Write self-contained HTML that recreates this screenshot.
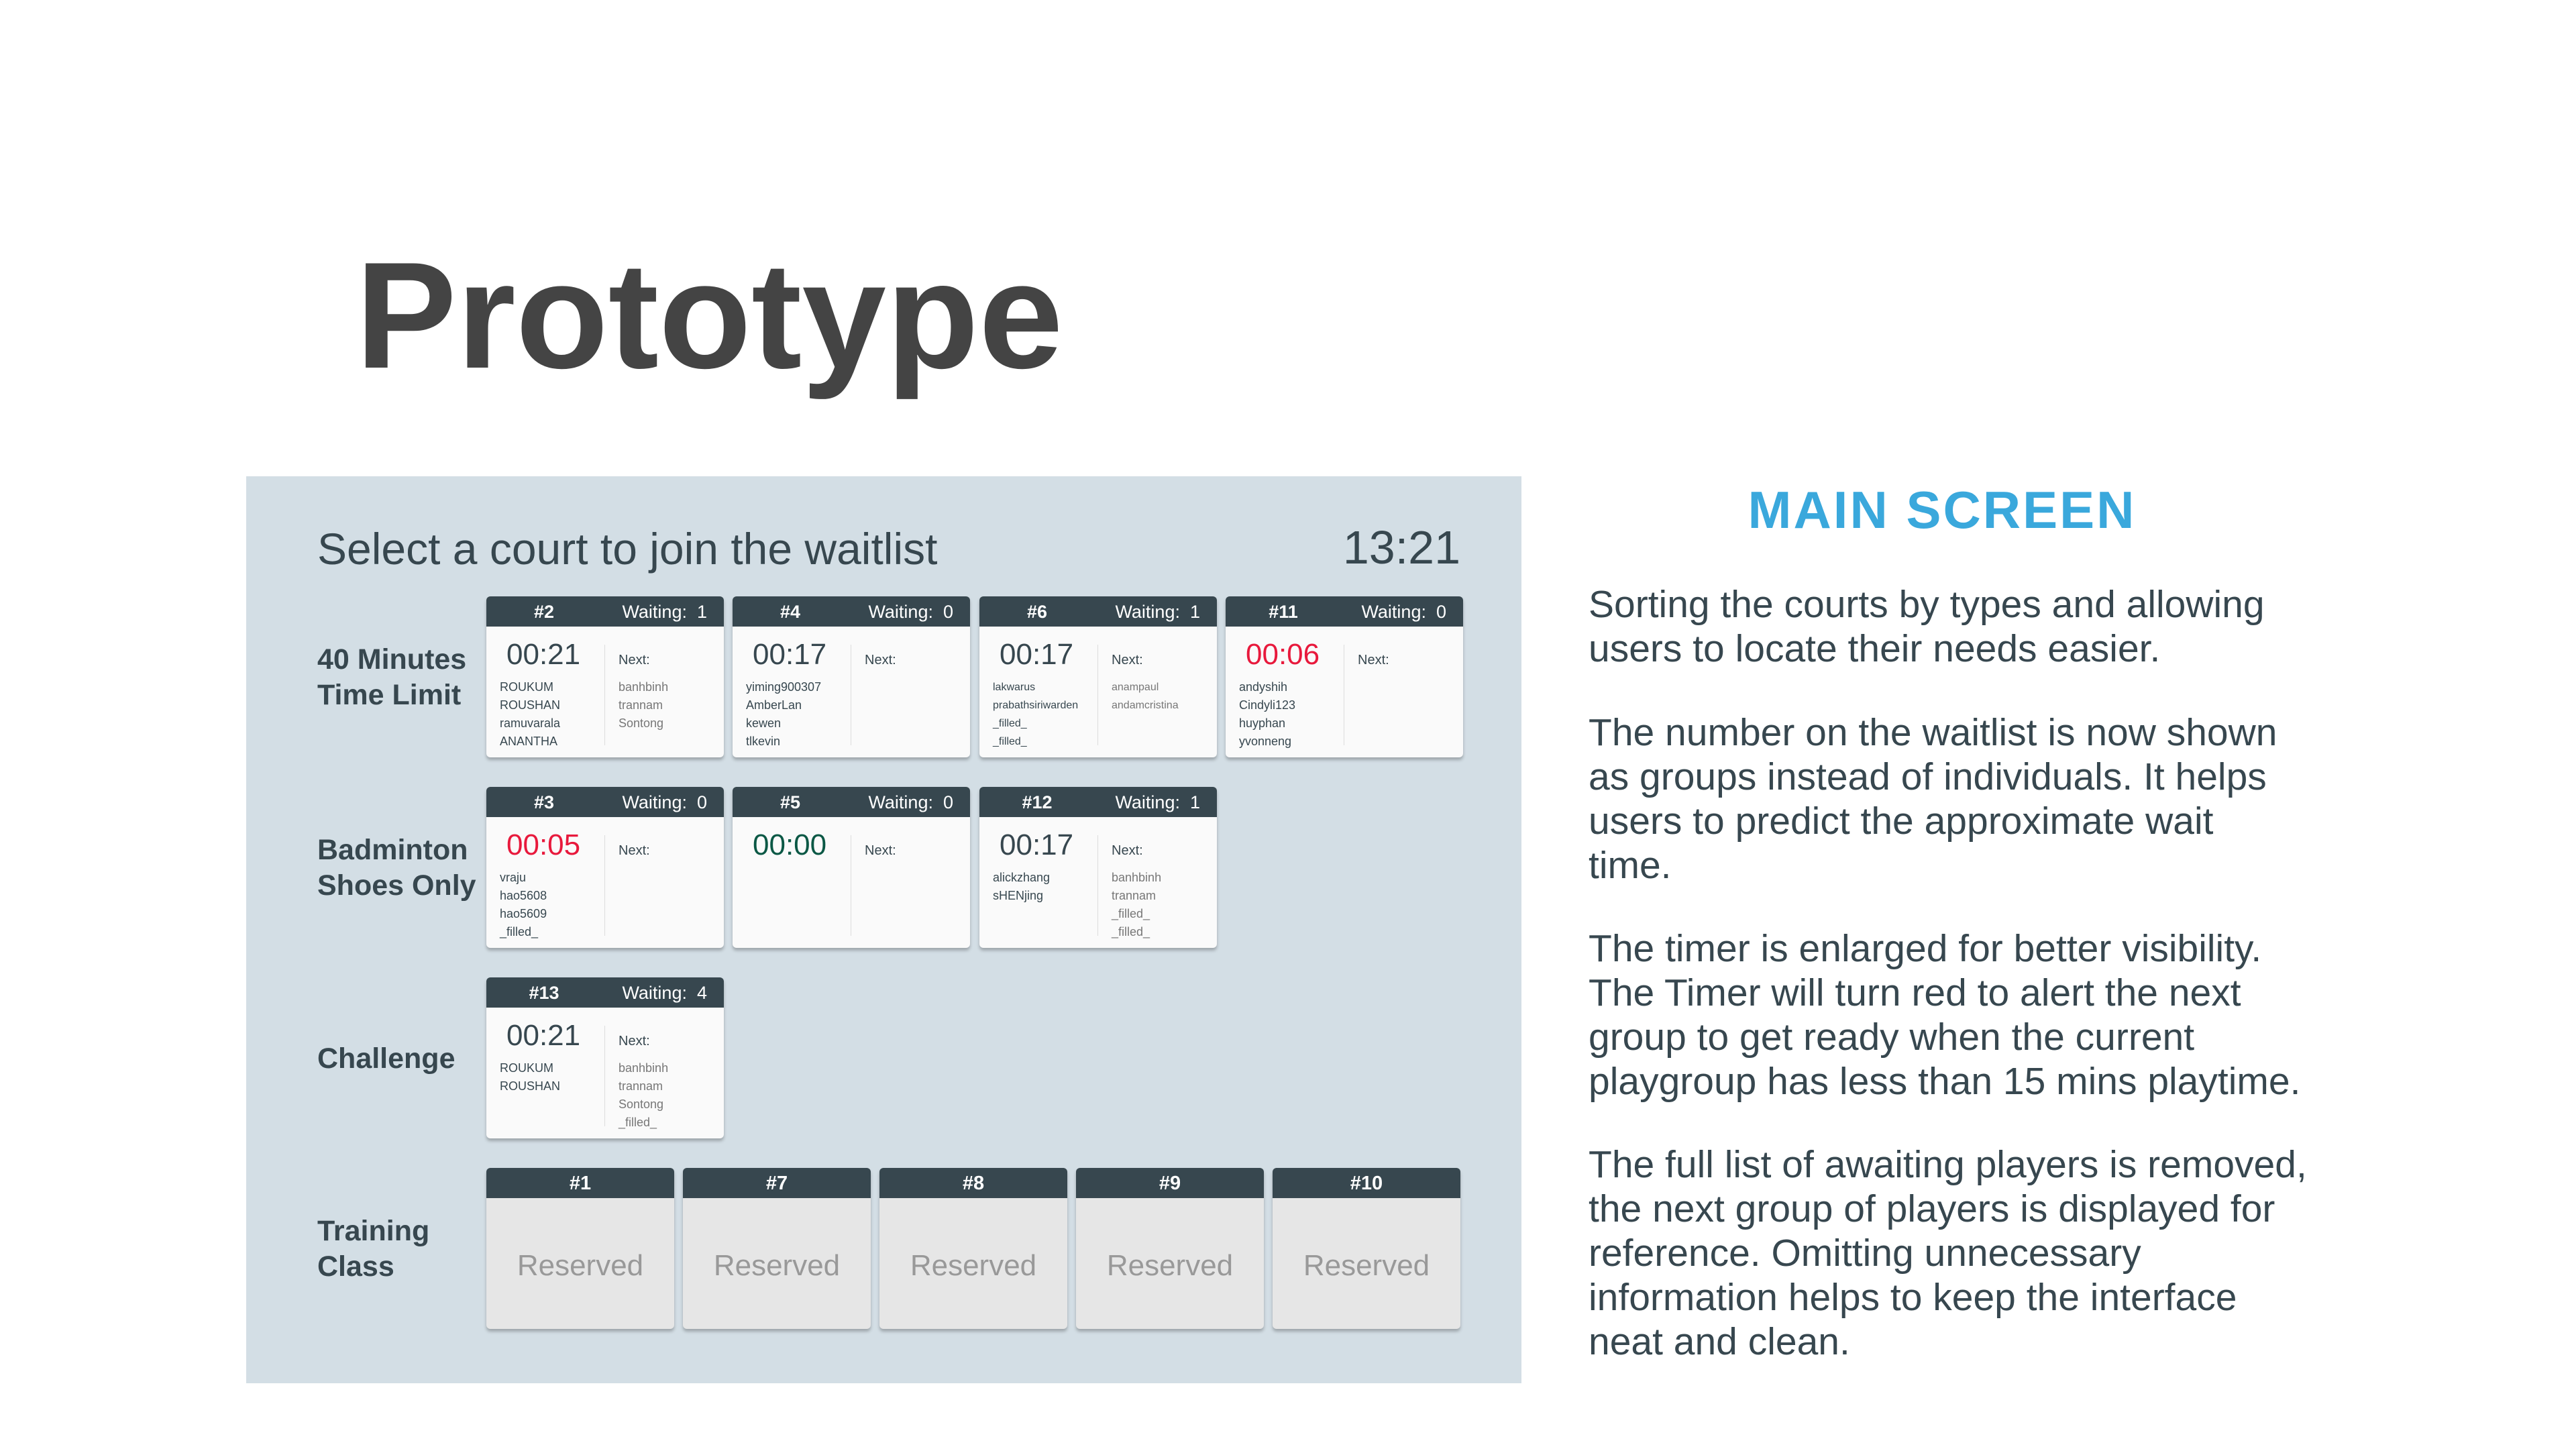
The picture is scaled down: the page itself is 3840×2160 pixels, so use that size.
<!DOCTYPE html>
<html><head><meta charset="utf-8"><style>
*{margin:0;padding:0;box-sizing:border-box}
body{width:3840px;height:2160px;background:#fff;position:relative;overflow:hidden;font-family:"Liberation Sans",sans-serif}
.abs{position:absolute}
#title{left:530px;top:340px;font-size:226px;font-weight:bold;color:#444;letter-spacing:0}
#panel{left:367px;top:710px;width:1901px;height:1352px;background:#d3dee5}
#hdr{left:473px;top:780px;font-size:66px;color:#37474f;white-space:nowrap}
#clock{left:1990px;top:776px;width:187px;text-align:right;font-size:70px;color:#37474f}
.lab{position:absolute;left:473px;font-size:43px;font-weight:bold;color:#37474f;line-height:53px}
.card{position:absolute;width:354px;height:240px;background:#fafafa;border-radius:6px;box-shadow:0 4px 5px rgba(0,0,0,.25);overflow:hidden}
.card .h{height:45px;background:#37474f;color:#fff;font-size:27px;position:relative}
.card .n{position:absolute;left:0;width:172px;text-align:center;top:8px;font-weight:bold}
.card .w{position:absolute;right:25px;top:8px}
.card .t{position:absolute;left:30px;top:62px;font-size:44px;color:#37474f}
.card .t.r{color:#e8193c}.card .t.g{color:#0b5845}
.card .d{position:absolute;left:176px;top:72px;width:1px;height:150px;background:#ddd}
.card .nx{position:absolute;left:197px;top:84px;font-size:20px;color:#37474f}
.card .p1{position:absolute;left:20px;top:122px;font-size:18px;line-height:27px;color:#37474f}
.card .p2{position:absolute;left:197px;top:122px;font-size:18px;line-height:27px;color:#777}
.tr{position:absolute;width:280px;height:240px;background:#e6e6e6;border-radius:6px;box-shadow:0 4px 5px rgba(0,0,0,.25);overflow:hidden;top:1741px}
.tr .h{height:45px;background:#37474f;color:#fff;font-size:29px;font-weight:bold;text-align:center;padding-top:7px}
.tr .b{text-align:center;color:#999;font-size:44px;margin-top:76px}
#ms{left:2500px;top:715px;width:790px;text-align:center;font-size:78px;font-weight:bold;color:#3aa8dc;letter-spacing:3px}
.para{position:absolute;left:2368px;font-size:57px;line-height:66px;color:#37474f;white-space:nowrap}
</style></head><body>
<div id="title" class="abs">Prototype</div>
<div id="panel" class="abs"></div>
<div id="hdr" class="abs">Select a court to join the waitlist</div>
<div id="clock" class="abs">13:21</div>

<div class="lab" style="top:957px">40 Minutes<br>Time Limit</div>
<div class="lab" style="top:1241px">Badminton<br>Shoes Only</div>
<div class="lab" style="top:1552px">Challenge</div>
<div class="lab" style="top:1809px">Training<br>Class</div>

<div class="card" style="left:725px;top:889px"><div class="h"><span class="n">#2</span><span class="w">Waiting:&nbsp; 1</span></div><div class="t">00:21</div><div class="d"></div><div class="nx">Next:</div><div class="p1">ROUKUM<br>ROUSHAN<br>ramuvarala<br>ANANTHA</div><div class="p2">banhbinh<br>trannam<br>Sontong</div></div>
<div class="card" style="left:1092px;top:889px"><div class="h"><span class="n">#4</span><span class="w">Waiting:&nbsp; 0</span></div><div class="t">00:17</div><div class="d"></div><div class="nx">Next:</div><div class="p1">yiming900307<br>AmberLan<br>kewen<br>tlkevin</div></div>
<div class="card" style="left:1460px;top:889px"><div class="h"><span class="n">#6</span><span class="w">Waiting:&nbsp; 1</span></div><div class="t">00:17</div><div class="d"></div><div class="nx">Next:</div><div class="p1" style="font-size:16px">lakwarus<br>prabathsiriwarden<br>_filled_<br>_filled_</div><div class="p2" style="font-size:16px">anampaul<br>andamcristina</div></div>
<div class="card" style="left:1827px;top:889px"><div class="h"><span class="n">#11</span><span class="w">Waiting:&nbsp; 0</span></div><div class="t r">00:06</div><div class="d"></div><div class="nx">Next:</div><div class="p1">andyshih<br>Cindyli123<br>huyphan<br>yvonneng</div></div>

<div class="card" style="left:725px;top:1173px"><div class="h"><span class="n">#3</span><span class="w">Waiting:&nbsp; 0</span></div><div class="t r">00:05</div><div class="d"></div><div class="nx">Next:</div><div class="p1">vraju<br>hao5608<br>hao5609<br>_filled_</div></div>
<div class="card" style="left:1092px;top:1173px"><div class="h"><span class="n">#5</span><span class="w">Waiting:&nbsp; 0</span></div><div class="t g">00:00</div><div class="d"></div><div class="nx">Next:</div></div>
<div class="card" style="left:1460px;top:1173px"><div class="h"><span class="n">#12</span><span class="w">Waiting:&nbsp; 1</span></div><div class="t">00:17</div><div class="d"></div><div class="nx">Next:</div><div class="p1">alickzhang<br>sHENjing</div><div class="p2">banhbinh<br>trannam<br>_filled_<br>_filled_</div></div>

<div class="card" style="left:725px;top:1457px"><div class="h"><span class="n">#13</span><span class="w">Waiting:&nbsp; 4</span></div><div class="t">00:21</div><div class="d"></div><div class="nx">Next:</div><div class="p1">ROUKUM<br>ROUSHAN</div><div class="p2">banhbinh<br>trannam<br>Sontong<br>_filled_</div></div>

<div class="tr" style="left:725px"><div class="h">#1</div><div class="b">Reserved</div></div>
<div class="tr" style="left:1018px"><div class="h">#7</div><div class="b">Reserved</div></div>
<div class="tr" style="left:1311px"><div class="h">#8</div><div class="b">Reserved</div></div>
<div class="tr" style="left:1604px"><div class="h">#9</div><div class="b">Reserved</div></div>
<div class="tr" style="left:1897px"><div class="h">#10</div><div class="b">Reserved</div></div>

<div id="ms" class="abs">MAIN SCREEN</div>
<div class="para" style="top:868px">Sorting the courts by types and allowing<br>users to locate their needs easier.</div>
<div class="para" style="top:1059px">The number on the waitlist is now shown<br>as groups instead of individuals. It helps<br>users to predict the approximate wait<br>time.</div>
<div class="para" style="top:1381px">The timer is enlarged for better visibility.<br>The Timer will turn red to alert the next<br>group to get ready when the current<br>playgroup has less than 15 mins playtime.</div>
<div class="para" style="top:1703px">The full list of awaiting players is removed,<br>the next group of players is displayed for<br>reference. Omitting unnecessary<br>information helps to keep the interface<br>neat and clean.</div>
</body></html>
